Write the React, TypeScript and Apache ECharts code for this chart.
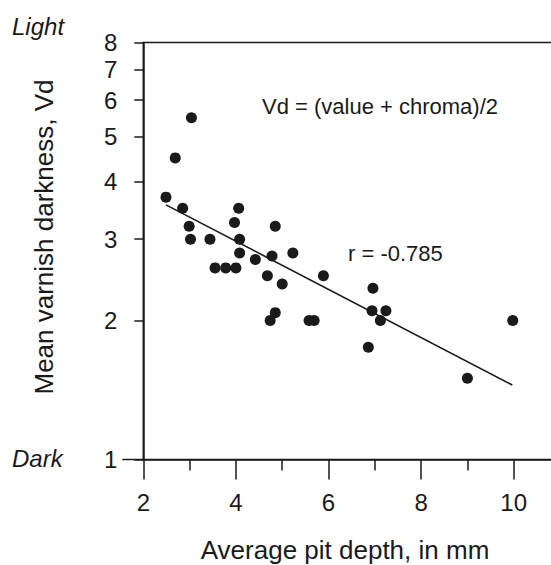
import React, { useEffect, useRef } from "react";
import * as echarts from "echarts";

// Data
const pitDepth = [3.04, 2.69, 2.49, 2.85, 2.99, 3.02, 3.44, 4.06, 3.97, 4.08, 4.08, 4.85, 4.78, 5.23, 4.42, 3.55, 3.78, 4.0, 4.68, 5.89, 5.0, 6.96, 4.85, 4.74, 5.58, 5.69, 6.94, 7.24, 7.12, 6.86, 9.0, 9.98];
const darkness = [5.5, 4.5, 3.7, 3.5, 3.2, 3.0, 3.0, 3.5, 3.26, 3.0, 2.8, 3.2, 2.76, 2.8, 2.71, 2.6, 2.6, 2.6, 2.5, 2.5, 2.4, 2.35, 2.08, 2.0, 2.0, 2.0, 2.1, 2.1, 2.0, 1.75, 1.5, 2.0];
const fitX = [2.49, 9.97];
const fitY = [3.56, 1.45];
const xMajorTicks = [2, 4, 6, 8, 10];
const xMinorTicks = [3, 5, 7, 9];
const yTicks = [1, 2, 3, 4, 5, 6, 7, 8];

const INK = "#1a1a1a";
const FONT = "Liberation Sans, Arial, Helvetica, sans-serif";

export default function App() {
  const ref = useRef<HTMLDivElement>(null);
  useEffect(() => {
    if (!ref.current) return;
    const chart = echarts.init(ref.current, null, { renderer: "svg" });
    const scatterData = pitDepth.map((x, i) => [x, darkness[i]]);
    const fitData = fitX.map((x, i) => [x, fitY[i]]);
    chart.setOption({
      animation: false,
      backgroundColor: "#ffffff",
      grid: {
        left: 143.3,
        top: 42.5,
        bottom: 105.5,
        right: 10,
        show: true,
        borderColor: INK,
        borderWidth: 1.5,
        backgroundColor: "transparent",
      },
      xAxis: [
        {
          type: "value",
          min: 2,
          max: 11,
          interval: 1,
          axisLine: { show: true, lineStyle: { color: INK, width: 1.5 } },
          axisTick: { show: true, customValues: xMajorTicks, length: 20, lineStyle: { color: INK, width: 1.5 } },
          axisLabel: { customValues: xMajorTicks, margin: 31, fontSize: 24, color: INK, fontFamily: FONT },
          splitLine: { show: false },
        },
        {
          type: "value",
          min: 2,
          max: 11,
          interval: 1,
          position: "bottom",
          axisLine: { show: false },
          axisTick: { show: true, customValues: xMinorTicks, length: 11, lineStyle: { color: INK, width: 1.5 } },
          axisLabel: { show: false },
          splitLine: { show: false },
        },
      ],
      yAxis: {
        type: "log",
        logBase: 2,
        min: 1,
        max: 8,
        axisLine: { show: true, lineStyle: { color: INK, width: 1.5 } },
        axisTick: { show: true, customValues: yTicks, length: 9, lineStyle: { color: INK, width: 1.5 } },
        axisLabel: { customValues: yTicks, margin: 26, fontSize: 24, color: INK, fontFamily: FONT },
        splitLine: { show: false },
        minorTick: { show: false },
      },
      series: [
        {
          type: "scatter",
          data: scatterData,
          symbol: "circle",
          symbolSize: 11,
          itemStyle: { color: INK, opacity: 1 },
          z: 3,
        },
        {
          type: "line",
          data: fitData,
          showSymbol: false,
          symbol: "none",
          lineStyle: { color: INK, width: 1.6 },
          z: 2,
        },
      ],
      graphic: [
        {
          type: "text",
          left: 12,
          top: 14,
          style: { text: "Light", fontSize: 24, fontStyle: "italic", fill: INK, fontFamily: FONT },
        },
        {
          type: "text",
          left: 12,
          top: 446,
          style: { text: "Dark", fontSize: 24, fontStyle: "italic", fill: INK, fontFamily: FONT },
        },
        {
          type: "text",
          x: 44,
          y: 237,
          rotation: Math.PI / 2,
          style: {
            text: "Mean varnish darkness, Vd",
            fontSize: 26,
            fill: INK,
            fontFamily: FONT,
            align: "center",
            verticalAlign: "middle",
          },
        },
        {
          type: "text",
          x: 345,
          y: 550,
          style: {
            text: "Average pit depth, in mm",
            fontSize: 26,
            fill: INK,
            fontFamily: FONT,
            align: "center",
            verticalAlign: "middle",
          },
        },
        {
          type: "text",
          x: 262,
          y: 106,
          style: {
            text: "Vd = (value + chroma)/2",
            fontSize: 22,
            fill: INK,
            fontFamily: FONT,
            align: "left",
            verticalAlign: "middle",
          },
        },
        {
          type: "text",
          x: 348,
          y: 253,
          style: {
            text: "r = -0.785",
            fontSize: 22,
            fill: INK,
            fontFamily: FONT,
            align: "left",
            verticalAlign: "middle",
          },
        },
      ],
    });
    // extended tick at y = 1 (computed via the chart's own scales)
    const p = chart.convertToPixel({ gridIndex: 0 }, [2, 1]) as number[];
    if (p) {
      chart.setOption({
        graphic: [
          {
            type: "line",
            id: "tick1",
            shape: { x1: p[0] - 21, y1: p[1], x2: p[0], y2: p[1] },
            style: { stroke: INK, lineWidth: 1.5 },
          },
        ],
      });
    }
    return () => chart.dispose();
  }, []);
  return (
    <div style={{ position: "absolute", left: 0, top: 0, width: 551, height: 565, overflow: "hidden" }}>
      <div ref={ref} style={{ width: 570, height: 565 }} />
    </div>
  );
}
